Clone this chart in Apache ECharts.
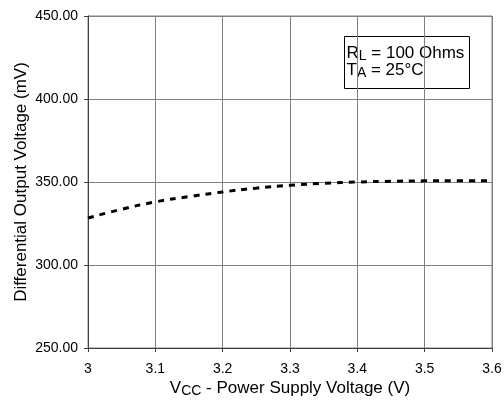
<!DOCTYPE html>
<html><head><meta charset="utf-8">
<script src="https://cdn.jsdelivr.net/npm/echarts@6/dist/echarts.min.js"></script>
<style>html,body{margin:0;padding:0;background:#fff}#c{width:504px;height:400px}</style>
</head><body><div id="c"></div>
<script>
var vcc = [3.0, 3.05, 3.1, 3.15, 3.2, 3.25, 3.3, 3.35, 3.4, 3.45, 3.5, 3.55, 3.6];
var vod = [328.3, 333.6, 338.0, 341.2, 344.0, 346.3, 348.0, 349.2, 350.0, 350.4, 350.7, 350.8, 350.8];
var xTicks = ['3', '3.1', '3.2', '3.3', '3.4', '3.5', '3.6'];
var yMin = 250, yMax = 450, yStep = 50;

var font = '"Liberation Sans", Arial, sans-serif';
var chart = echarts.init(document.getElementById('c'));
chart.setOption({
  animation: false,
  backgroundColor: '#fff',
  grid: {left: 88, right: 12, top: 16, bottom: 52, containLabel: false, outerBoundsMode: 'none',
    show: true, borderColor: '#808080', borderWidth: 1},
  xAxis: {
    type: 'value', min: 3, max: 3.6, interval: 0.1,
    name: '{v|V}{s|CC}{v| - Power Supply Voltage (V)}',
    nameLocation: 'middle', nameGap: 30, nameMoveOverlap: false,
    nameTextStyle: {rich: {
      v: {fontFamily: font, fontSize: 17, color: '#000', lineHeight: 20},
      s: {fontFamily: font, fontSize: 14, color: '#000', padding: [7, 0, 0, 0], lineHeight: 20}
    }},
    axisLine: {show: true, lineStyle: {color: '#404040', width: 1}},
    axisTick: {show: true, length: 4, lineStyle: {color: '#404040'}},
    axisLabel: {fontFamily: font, fontSize: 14, color: '#000', margin: 14,
      formatter: function (v) { return xTicks[Math.round((v - 3) * 10)]; }},
    splitLine: {show: true, lineStyle: {color: '#808080', width: 1}}
  },
  yAxis: {
    type: 'value', min: yMin, max: yMax, interval: yStep,
    name: 'Differential Output Voltage (mV)',
    nameLocation: 'middle', nameGap: 58, nameMoveOverlap: false,
    nameTextStyle: {fontFamily: font, fontSize: 17, color: '#000'},
    axisLine: {show: true, lineStyle: {color: '#404040', width: 1}},
    axisTick: {show: true, length: 4, lineStyle: {color: '#404040'}},
    axisLabel: {fontFamily: font, fontSize: 14, color: '#000', margin: 10,
      formatter: function (v) { return v.toFixed(2); }},
    splitLine: {show: true, lineStyle: {color: '#808080', width: 1}}
  },
  series: [{
    type: 'line', smooth: true, symbol: 'none',
    data: vcc.map(function (x, i) { return [x, vod[i]]; }),
    lineStyle: {color: '#000', width: 3, type: [6, 6]}
  }],
  graphic: [{
    type: 'group', left: 344, top: 36,
    children: [
      {type: 'rect', shape: {x: 0, y: 0, width: 125, height: 52},
        style: {fill: '#fff', stroke: '#000', lineWidth: 1}},
      {type: 'text', left: 2, top: 6, style: {
        text: '{m|R}{s|L}{m| = 100 Ohms}',
        rich: {m: {fontFamily: font, fontSize: 17, fill: '#000', lineHeight: 18},
               s: {fontFamily: font, fontSize: 14, fill: '#000', padding: [7, 0, 0, 0], lineHeight: 18}}}},
      {type: 'text', left: 2, top: 23, style: {
        text: '{m|T}{s|A}{m| = 25°C}',
        rich: {m: {fontFamily: font, fontSize: 17, fill: '#000', lineHeight: 18},
               s: {fontFamily: font, fontSize: 14, fill: '#000', padding: [7, 0, 0, 0], lineHeight: 18}}}}
    ]
  }]
});
</script></body></html>
